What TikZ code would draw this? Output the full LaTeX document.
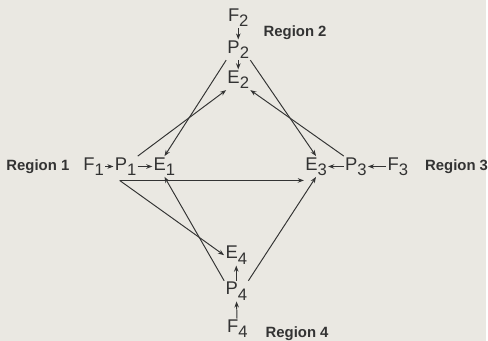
\documentclass[tikz,border=0pt]{standalone}
\usepackage{fontspec}
\setmainfont{Liberation Sans}
\usetikzlibrary{arrows.meta}
\definecolor{paper}{HTML}{EAE8E2}
\definecolor{ink}{HTML}{333333}

\tikzset{
  var/.style={inner sep=0.5pt, font=\fontsize{10.5}{12}\selectfont},
  region/.style={inner sep=0pt, font=\fontsize{8.5}{10}\selectfont\bfseries},
}
\newcommand{\vsub}[2]{#1\raisebox{-0.55ex}{\fontsize{9.5}{10}\selectfont #2}}

\begin{document}
\begin{tikzpicture}[x=0.02cm, y=-0.02cm, ink, line width=0.55pt,
    >={Stealth[length=3.5pt,width=2.6pt]}]
  \fill[paper] (0,0) rectangle (488,342);
  % region chains F -> P -> E
  \foreach \n/\fx/\fy/\px/\py/\ex/\ey in
      {1/94/167/126/167/165/167, 2/239/18/239/50/239/80,
       3/399/167/357/167/317/167, 4/238/330/237/292/237/256}
    {\node[var] (F\n) at (\fx,\fy) {\vsub{F}{\n}};
     \node[var] (P\n) at (\px,\py) {\vsub{P}{\n}};
     \node[var] (E\n) at (\ex,\ey) {\vsub{E}{\n}};
     \draw[->] (F\n) -- (P\n);
     \draw[->] (P\n) -- (E\n);}
  \node[region] (R1) at (38,167) {Region 1};
  \node[region] (R2) at (296,33) {Region 2};
  \node[region] (R3) at (458,167) {Region 3};
  \node[region] (R4) at (298,335) {Region 4};
  % cross-regional links
  \coordinate (p1s) at (120,181);
  \draw[->] (P1.north east) -- (E2.south west);
  \draw[->] (P2.south west) -- (E1.north);
  \draw[->] (P2.south east) -- (E3.north);
  \draw[->] (P3.north west) -- (E2.south east);
  \draw[->] (p1s) -- (E3.south west |- p1s);
  \draw[->] (p1s) -- (E4.west);
  \draw[->] (P4.north west) -- (E1.south);
  \draw[->] (P4.north east) -- (E3.south);
\end{tikzpicture}
\end{document}
